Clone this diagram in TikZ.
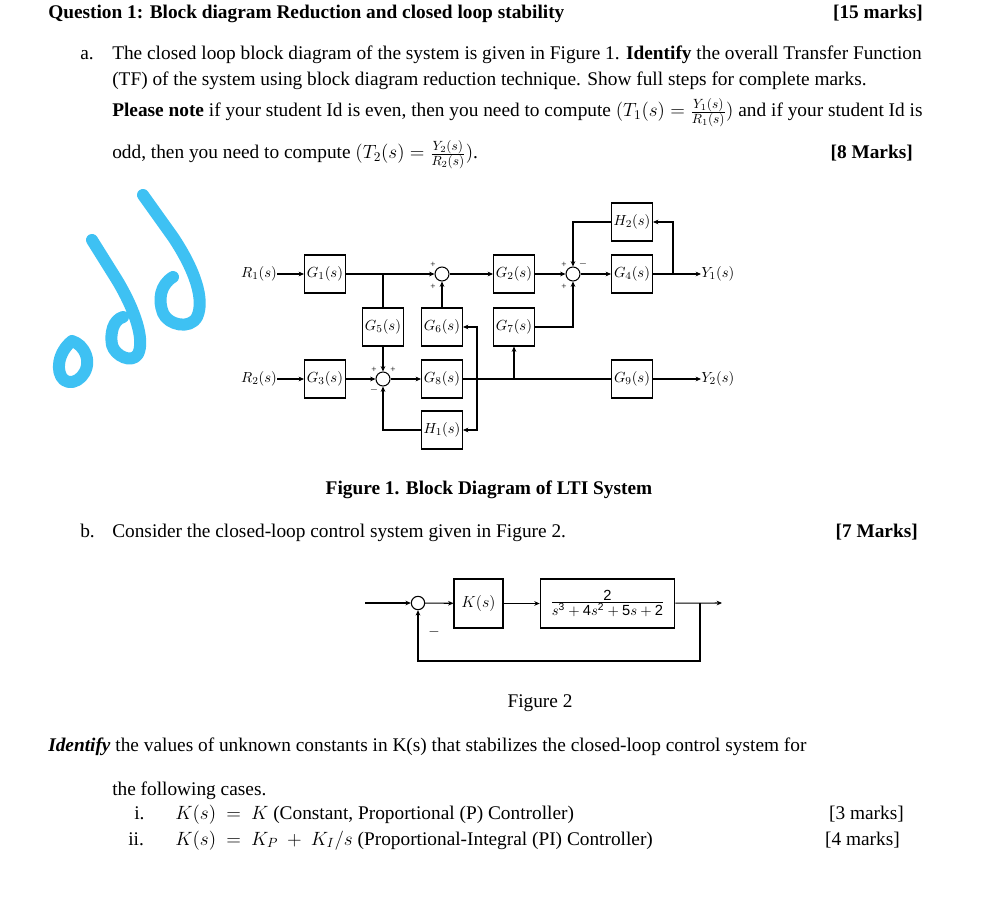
\documentclass[tikz,border=0pt]{standalone}
\usepackage{fontspec}
\setmainfont{Liberation Serif}
\setsansfont{Liberation Sans}
\usetikzlibrary{arrows.meta}
\begin{document}
\begin{tikzpicture}[x=0.75pt,y=-0.75pt,
  txt/.style={anchor=base west,inner sep=0pt,font=\fontsize{14.5}{16}\selectfont},
  txtr/.style={anchor=base east,inner sep=0pt,font=\fontsize{14.5}{16}\selectfont},
  blk/.style={draw,line width=0.8pt,minimum width=30.75pt,minimum height=28.5pt,inner sep=1pt,font=\fontsize{11}{12}\selectfont},
  sm/.style={draw,circle,line width=0.8pt,minimum size=10.5pt,inner sep=0pt},
  ln/.style={line width=0.8pt},
  ar/.style={ln,-{Stealth[length=4pt,width=3.5pt]}},
  sg/.style={font=\fontsize{7}{8}\selectfont,inner sep=0pt},
  odd/.style={line width=9pt,line cap=round,line join=round,draw={rgb,255:red,62;green,193;blue,243}}]
\useasboundingbox[fill=white] (0,0) rectangle (1000,902);
% ---------- text ----------
\node[txt] at (48,19) {\textbf{Question 1: Block diagram Reduction and closed loop stability}};
\node[txtr] at (923,19) {\textbf{[15 marks]}};
\node[txt] at (80,60) {a.};
\node[txt] at (112,60) {The closed loop block diagram of the system is given in Figure 1. \textbf{Identify} the overall Transfer Function};
\node[txt] at (112,86) {(TF) of the system using block diagram reduction technique. Show full steps for complete marks.};
\node[txt] at (112,117) {\textbf{Please note} if your student Id is even, then you need to compute $(T_1(s)=\frac{Y_1(s)}{R_1(s)})$ and if your student Id is};
\node[txt] at (112,159) {odd, then you need to compute $(T_2(s)=\frac{Y_2(s)}{R_2(s)})$.};
\node[txtr] at (913,159) {\textbf{[8 Marks]}};
\node[anchor=base,inner sep=0pt,font=\fontsize{14.5}{16}\selectfont] at (489,494) {\textbf{Figure 1. Block Diagram of LTI System}};
\node[txt] at (80,537) {b.};
\node[txt] at (112,537) {Consider the closed-loop control system given in Figure 2.};
\node[txtr] at (918,537) {\textbf{[7 Marks]}};
\node[anchor=base,inner sep=0pt,font=\fontsize{14.5}{16}\selectfont] at (540,707) {Figure 2};
\node[txt] at (48,751) {\textbf{\textit{Identify}} the values of unknown constants in K(s) that stabilizes the closed-loop control system for};
\node[txt] at (112,795) {the following cases.};
\node[txt] at (134,819) {i.};
\node[txt] at (175,819) {$K(s)\ =\ K$ (Constant, Proportional (P) Controller)};
\node[txtr] at (904,819) {[3 marks]};
\node[txt] at (128,845) {ii.};
\node[txt] at (175,845) {$K(s)\ =\ K_P\ +\ K_I/s$ (Proportional-Integral (PI) Controller)};
\node[txtr] at (900,845) {[4 marks]};
% ---------- odd ----------
\draw[odd] (72,341) .. controls (58,352) and (55,372) .. (64,380) .. controls (75,388) and (92,372) .. (86,355) .. controls (83,347) and (78,343) .. (72,341);
\draw[odd] (92,240) -- (117,280) .. controls (135,310) and (145,340) .. (138,354) .. controls (132,364) and (115,356) .. (112,345) .. controls (110,333) and (113,320) .. (123,317);
\draw[odd] (143,195) -- (173,237) .. controls (195,270) and (205,300) .. (197,317) .. controls (190,330) and (168,325) .. (163,313) .. controls (158,300) and (160,285) .. (173,277);
% ---------- Figure 1 ----------
\node[inner sep=0pt,font=\fontsize{11}{12}\selectfont] (R1) at (259,274) {$R_1(s)$};
\node[blk] (G1) at (325,274) {$G_1(s)$};
\node[sm] (S1) at (442,274) {};
\node[blk] (G2) at (514,274) {$G_2(s)$};
\node[sm] (S2) at (573,274) {};
\node[blk] (G4) at (632,274) {$G_4(s)$};
\node[blk] (H2) at (632,222) {$H_2(s)$};
\node[inner sep=0pt,font=\fontsize{11}{12}\selectfont,anchor=west] (Y1) at (701,274) {$Y_1(s)$};
\node[blk] (G5) at (383,327) {$G_5(s)$};
\node[blk] (G6) at (442,327) {$G_6(s)$};
\node[blk] (G7) at (514,327) {$G_7(s)$};
\node[inner sep=0pt,font=\fontsize{11}{12}\selectfont] (R2) at (259,379) {$R_2(s)$};
\node[blk] (G3) at (325,379) {$G_3(s)$};
\node[sm] (S3) at (383,379) {};
\node[blk] (G8) at (442,379) {$G_8(s)$};
\node[blk] (G9) at (632,379) {$G_9(s)$};
\node[inner sep=0pt,font=\fontsize{11}{12}\selectfont,anchor=west] (Y2) at (701,379) {$Y_2(s)$};
\node[blk] (H1) at (442,430) {$H_1(s)$};
\coordinate (J1) at (383,274);
\coordinate (B1) at (673,274);
\coordinate (B2) at (477,379);
\coordinate (B3) at (514,379);
\draw[ar] (R1) -- (G1);
\draw[ar] (G1) -- (S1);
\draw[ar] (S1) -- (G2);
\draw[ar] (G2) -- (S2);
\draw[ar] (S2) -- (G4);
\draw[ar] (G4) -- (Y1);
\draw[ar] (B1) |- (H2);
\draw[ar] (H2) -| (S2);
\draw[ln] (J1) -- (G5);
\draw[ar] (G5) -- (S3);
\draw[ar] (G6) -- (S1);
\draw[ar] (G7) -| (S2);
\draw[ar] (R2) -- (G3);
\draw[ar] (G3) -- (S3);
\draw[ar] (S3) -- (G8);
\draw[ln] (G8) -- (G9);
\draw[ar] (G9) -- (Y2);
\draw[ar] (B2) |- (G6);
\draw[ar] (B2) |- (H1);
\draw[ar] (H1) -| (S3);
\draw[ar] (B3) -- (G7);
\node[sg] at (433,265) {+};
\node[sg] at (433,287) {+};
\node[sg] at (564,265) {+};
\node[sg] at (583,264) {$-$};
\node[sg] at (564,287) {+};
\node[sg] at (374,370) {+};
\node[sg] at (393,370) {+};
\node[sg] at (374,390) {$-$};
% ---------- Figure 2 ----------
\coordinate (In) at (365,603);
\node[sm,minimum size=10pt] (S4) at (418,603) {};
\node[draw,line width=0.8pt,minimum width=36.75pt,minimum height=36.75pt,inner sep=0pt,font=\fontsize{13}{14}\selectfont] (K) at (478.5,603.5) {$K(s)$};
\node[draw,line width=0.8pt,minimum width=101pt,minimum height=36.75pt,inner sep=1pt,font=\sffamily\fontsize{11}{13}\selectfont] (P) at (607.5,603.5) {$\frac{\textstyle\mathsf{2}}{\textstyle s^{\mathsf{3}}+\mathsf{4}s^{\mathsf{2}}+\mathsf{5}s+\mathsf{2}}$};
\coordinate (Out) at (722,603);
\coordinate (B4) at (700,603);
\coordinate (C4) at (700,661);
\draw[ar] (In) -- (S4);
\draw[ar] (S4) -- (K);
\draw[ar] (K) -- (P);
\draw[ar] (P) -- (Out);
\draw[ar] (B4) -- (C4) -| (S4);
\node[inner sep=0pt,font=\fontsize{11}{12}\selectfont] at (434,632) {$-$};
\end{tikzpicture}
\end{document}
